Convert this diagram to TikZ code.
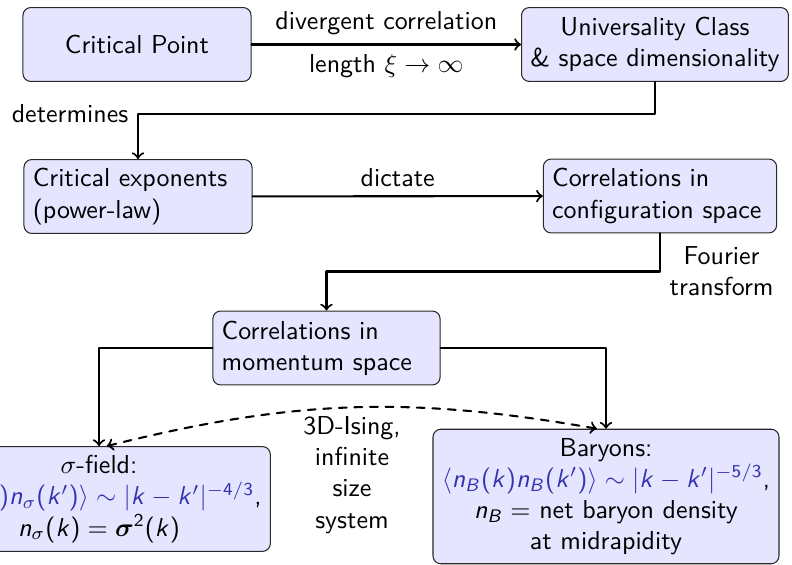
\documentclass[tikz,border=0pt]{standalone}
\usepackage{amsmath}
\renewcommand{\familydefault}{\sfdefault}
% sans letters in formulas
\DeclareSymbolFont{sfslant}{OT1}{cmss}{m}{sl}
\DeclareMathSymbol{n}{\mathalpha}{sfslant}{`n}
\DeclareMathSymbol{k}{\mathalpha}{sfslant}{`k}
\DeclareMathSymbol{B}{\mathalpha}{sfslant}{`B}
\SetSymbolFont{operators}{normal}{OT1}{cmss}{m}{n}
\definecolor{boxfill}{RGB}{229,229,255}
\definecolor{formula}{RGB}{51,51,178}
\definecolor{rim}{RGB}{40,40,40}

\begin{document}
\begin{tikzpicture}[
  x=0.385pt,y=0.385pt,
  line cap=round,line join=round,
  box/.style={draw=rim,fill=boxfill,rounded corners=3pt,minimum height=1cm,inner sep=3.4pt},
  link/.style={->,thick},
  swap/.style={<->,thick,dashed}
]
\useasboundingbox (0,0) rectangle (792,565);

% top row
\node[box,minimum width=87.8pt,align=center] (critpt) at (137,520.5) {Critical Point};
\node[box,minimum width=100.9pt,align=center] (univ) at (655,520.5)
  {Universality Class\\\& space dimensionality};
\draw[link] (critpt) -- node[above]{divergent correlation}
  node[below]{length $\xi\to\infty$} (univ);

% middle row
\node[box,text width=81pt,align=left] (exps) at (138,368.5)
  {Critical exponents\\(power-law)};
\node[box,text width=83pt,align=left] (confsp) at (660,369)
  {Correlations in\\configuration space};
\draw[link] (univ.south) -- ++(0,-32) -| node[pos=.5,left]{determines} (exps.north);
\draw[link] (exps) -- node[above]{dictate} (confsp);

\node[box,text width=80.7pt,align=left] (momsp) at (326.5,217)
  {Correlations in\\momentum space};
\draw[link] (confsp.south) -- ++(0,-38) node[right,align=center]{Fourier\\transform}
  -| (momsp.north);

% bottom row
\node[box,align=center] (sigma) at (99,66)
  {$\sigma$-field:\\
   \textcolor{formula}{$\langle n_\sigma(k)n_\sigma(k')\rangle\sim|k-k'|^{-4/3}$},\\
   $n_\sigma(k)=\boldsymbol{\sigma}^2(k)$};
\node[box,align=center] (baryon) at (606,68.5)
  {Baryons:\\
   \textcolor{formula}{$\langle n_B(k)n_B(k')\rangle\sim|k-k'|^{-5/3}$},\\
   $n_B=$ net baryon density\\at midrapidity};
\node[align=center] (ising) at (352,90) {3D-Ising,\\infinite\\size\\system};

\draw[link] (momsp.west) -| (sigma.north);
\draw[link] (momsp.east) -| (baryon.north);
\draw[swap] ([xshift=3pt]sigma.north) to[bend left=12] ([xshift=-3.5pt]baryon.north);

\end{tikzpicture}
\end{document}
